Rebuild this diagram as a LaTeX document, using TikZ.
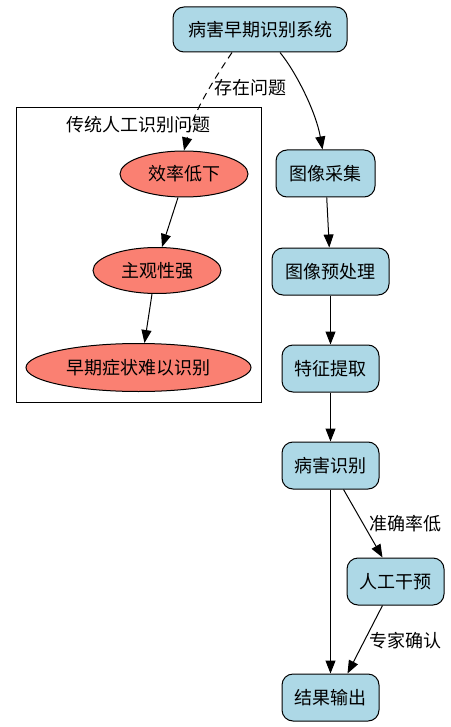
\documentclass[tikz,border=0pt]{standalone}
\usepackage{fontspec}
\setmainfont{Noto Sans CJK SC}
\usetikzlibrary{arrows.meta,calc,shapes.geometric}
\definecolor{boxblue}{HTML}{ADD8E6}
\definecolor{salmonred}{HTML}{FA8072}
\tikzset{
  proc/.style={draw=black, line width=1pt, fill=boxblue, rounded corners=11pt, minimum height=47pt, inner sep=0pt, font=\fontsize{18}{21}\selectfont},
  issue/.style={draw=black, line width=1pt, fill=salmonred, ellipse, inner sep=0pt, font=\fontsize{18}{21}\selectfont},
  arr/.style={-{Triangle[length=13pt,width=10pt]}, line width=1pt},
  lbl/.style={font=\fontsize{18}{21}\selectfont, inner sep=1pt},
}
\begin{document}
\begin{tikzpicture}[x=1pt,y=-1pt]
\useasboundingbox (0,0) rectangle (450,727);
% cluster
\node[draw=black, line width=1pt, minimum width=245pt, minimum height=295pt, inner sep=0pt] (cluster) at (138.5,255) {};
\node[lbl] (clabel) at (138,125) {传统人工识别问题};
% right column
\node[proc, minimum width=174pt, minimum height=45pt] (top) at (260,29.5) {病害早期识别系统};
\node[proc, minimum width=99pt] (cj) at (325.5,173.5) {图像采集};
\node[proc, minimum width=117pt] (yc) at (330.5,271.5) {图像预处理};
\node[proc, minimum width=97pt] (tz) at (330.5,368.5) {特征提取};
\node[proc, minimum width=97pt] (sb) at (330.5,465.5) {病害识别};
\node[proc, minimum width=97pt] (rg) at (395.5,581.5) {人工干预};
\node[proc, minimum width=97pt] (jg) at (330.5,697.5) {结果输出};
% ellipses
\node[issue, minimum width=128pt, minimum height=46pt] (xl) at (184,174) {效率低下};
\node[issue, minimum width=128pt, minimum height=46pt] (zg) at (157,270.5) {主观性强};
\node[issue, minimum width=225pt, minimum height=48pt] (zq) at (138.5,367.5) {早期症状难以识别};
% edges
\draw[arr, dash pattern=on 7pt off 5pt] ($(top.south)+(-28,0)$) .. controls (215,78) and (194,110) .. (xl.north);
\node[lbl] (l1) at (250,88) {存在问题};
\draw[arr] ($(top.south)+(20,0)$) .. controls (296,72) and (316,112) .. ($(cj.north)+(-3,0)$);
\draw[arr] (cj) -- (yc);
\draw[arr] (yc) -- (tz);
\draw[arr] (tz) -- (sb);
\draw[arr] (sb) -- (jg);
\draw[arr] ($(sb.south)+(13,0)$) -- ($(rg.north)+(-13,0)$);
\node[lbl] (l2) at (405,524) {准确率低};
\draw[arr] ($(rg.south)+(-13,0)$) -- ($(jg.north)+(17,0)$);
\node[lbl] (l3) at (405,641) {专家确认};
\draw[arr] ($(xl.south)+(-6,0)$) -- ($(zg.north)+(5,0)$);
\draw[arr] ($(zg.south)+(-5,0)$) -- ($(zq.north)+(6,0)$);
\end{tikzpicture}
\end{document}
